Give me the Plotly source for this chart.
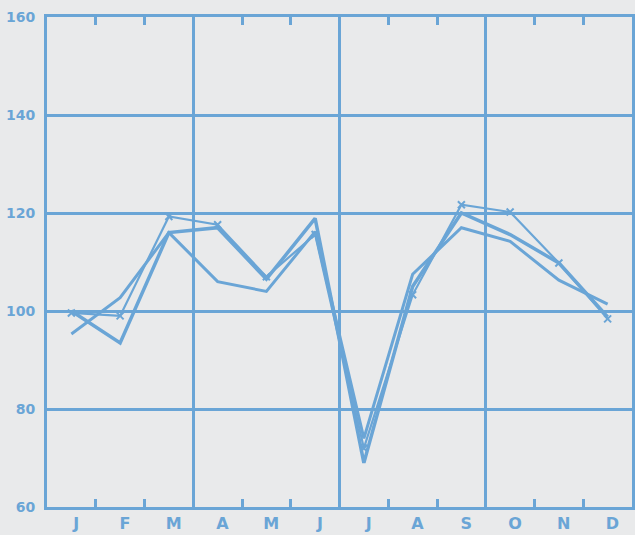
import plotly.graph_objects as go

months = ["J", "F", "M", "A", "M", "J", "J", "A", "S", "O", "N", "D"]
month_pos = list(range(12))

series_marked = [99.6, 99.0, 119.3, 117.6, 107.0, 115.6, 72.0, 103.3, 121.7, 120.2, 109.8, 98.4]
series_thick = [100.0, 93.5, 116.0, 117.0, 106.5, 118.9, 69.0, 105.0, 120.0, 115.6, 109.8, 98.8]
series_medium = [95.3, 102.7, 116.0, 106.0, 104.0, 116.2, 74.0, 107.5, 117.0, 114.2, 106.3, 101.4]

y_ticks = [60, 80, 100, 120, 140, 160]

BLUE = "#6aa5d6"
BG = "#e9eaeb"

fig = go.Figure()
fig.add_trace(go.Scatter(x=month_pos, y=series_medium, mode="lines",
                         line=dict(color=BLUE, width=3), showlegend=False))
fig.add_trace(go.Scatter(x=month_pos, y=series_thick, mode="lines",
                         line=dict(color=BLUE, width=3.5), showlegend=False))
fig.add_trace(go.Scatter(x=month_pos, y=series_marked, mode="lines+markers",
                         line=dict(color=BLUE, width=2.2),
                         marker=dict(symbol="x-thin", size=7, color=BLUE,
                                     line=dict(color=BLUE, width=2)),
                         showlegend=False))
# invisible trace on overlay axis for month labels
fig.add_trace(go.Scatter(x=month_pos, y=series_marked, mode="lines",
                         line=dict(width=0), opacity=0, xaxis="x2",
                         hoverinfo="skip", showlegend=False))

fig.update_layout(
    width=635, height=535,
    margin=dict(l=47, r=3, t=17, b=28),
    paper_bgcolor=BG, plot_bgcolor=BG,
    xaxis=dict(range=[-0.5, 11.5], tick0=-0.5, dtick=3, showticklabels=False,
               showgrid=True, gridcolor=BLUE, gridwidth=2.5,
               showline=True, linecolor=BLUE, linewidth=3, mirror="ticks",
               ticks="", zeroline=False,
               minor=dict(tick0=-0.5, dtick=1, ticks="inside", ticklen=8,
                          tickwidth=2.5, tickcolor=BLUE, showgrid=False)),
    xaxis2=dict(range=[-0.6, 11.4], overlaying="x", side="bottom",
                tickvals=month_pos, ticktext=months, ticks="", showgrid=False,
                showline=False, zeroline=False, automargin=False,
                ticklabelstandoff=5,
                tickfont=dict(family="DejaVu Sans", size=16, color=BLUE, weight="bold")),
    yaxis=dict(range=[60, 160], tickvals=y_ticks, showgrid=True,
               gridcolor=BLUE, gridwidth=2.5, showline=True, linecolor=BLUE,
               linewidth=3, mirror=True, zeroline=False, ticks="",
               ticklabelstandoff=6, automargin=False,
               tickfont=dict(family="DejaVu Sans", size=14, color=BLUE, weight="bold")),
)

fig.write_html("out.html",
               config={"displayModeBar": False},
               post_script="document.body.style.margin='0';"
                           "document.body.style.background='" + BG + "';")
